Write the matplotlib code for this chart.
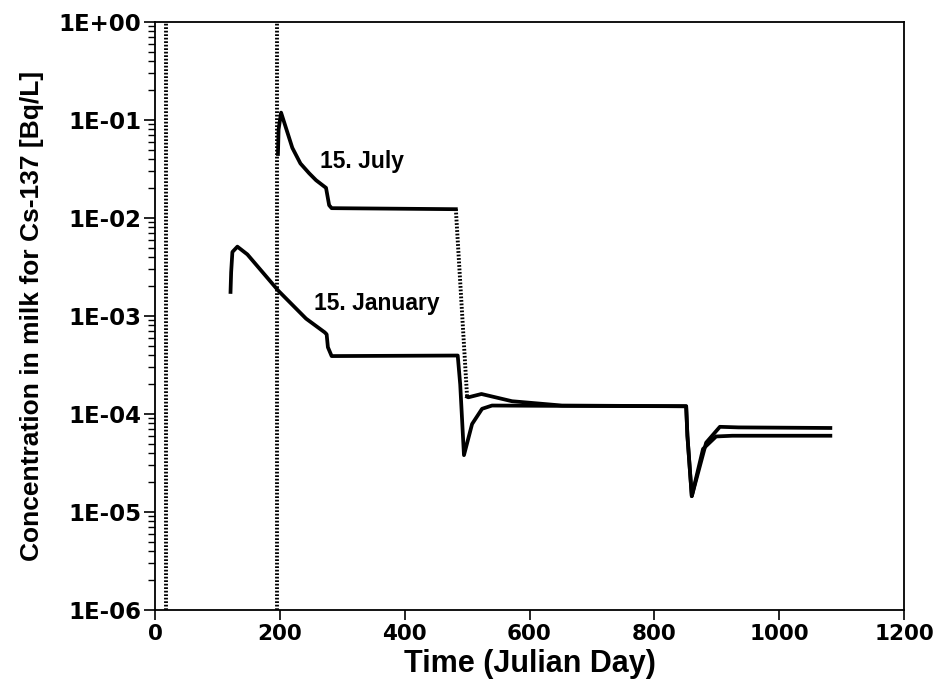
import matplotlib

matplotlib.use("Agg")
import matplotlib.pyplot as plt
from matplotlib.ticker import FixedLocator, LogLocator, NullFormatter

plt.rcParams["font.family"] = ["Liberation Sans", "DejaVu Sans"]

# milk concentration after a release on 15 January (Bq/L)
jan_day = [121, 122, 124, 132, 148, 198, 242, 272, 275, 277, 283, 485, 489, 495,
           508, 524, 540, 650, 851, 853, 860, 878, 899, 925, 1082]
jan_conc = [1.76e-3, 2.8e-3, 4.5e-3, 5.1e-3, 4.25e-3, 1.8e-3, 9.4e-4, 6.8e-4, 6.5e-4,
            4.8e-4, 3.9e-4, 3.95e-4, 2.0e-4, 3.8e-5, 7.9e-5, 1.13e-4, 1.22e-4, 1.21e-4,
            1.2e-4, 6.0e-5, 1.45e-5, 4.4e-5, 5.9e-5, 6.0e-5, 6.0e-5]

# release on 15 July, before and after the steep fall (fall is dotted in the source)
jul_day_a = [197, 198, 202, 220, 233, 247, 258, 274, 279, 283, 482]
jul_conc_a = [0.045, 0.08, 0.119, 0.052, 0.036, 0.0286, 0.0243, 0.0203, 0.0135,
              0.0126, 0.0123]
jul_drop_day = [482, 500]
jul_drop_conc = [0.0123, 1.5e-4]
jul_day_b = [500, 502, 523, 572, 652, 851, 853, 860, 883, 905, 935, 1082]
jul_conc_b = [1.5e-4, 1.48e-4, 1.6e-4, 1.35e-4, 1.22e-4, 1.2e-4, 6.0e-5, 1.45e-5,
              5.1e-5, 7.4e-5, 7.3e-5, 7.2e-5]

# deposition dates (full-height dotted lines)
release_day = [18, 196]

y_ticks = [1e0, 1e-1, 1e-2, 1e-3, 1e-4, 1e-5, 1e-6]
y_labels = ["1E+00", "1E-01", "1E-02", "1E-03", "1E-04", "1E-05", "1E-06"]
x_ticks = [0, 200, 400, 600, 800, 1000, 1200]

DOTS = (0, (0.45, 0.45))


def main() -> None:
    fig = plt.figure(figsize=(9.33, 6.87), dpi=100)
    ax = fig.add_axes([155 / 933, 1 - 610 / 687, 749 / 933, 588 / 687])

    for d in release_day:
        ax.plot([d, d], [1e-6, 1e0], color="black", lw=2.8, ls=DOTS)

    ax.plot(jan_day, jan_conc, color="black", lw=2.7, solid_joinstyle="round")
    ax.plot(jul_day_a, jul_conc_a, color="black", lw=2.7, solid_joinstyle="round")
    ax.plot(jul_drop_day, jul_drop_conc, color="black", lw=2.8, ls=DOTS)
    ax.plot(jul_day_b, jul_conc_b, color="black", lw=2.7, solid_joinstyle="round")

    ax.set_yscale("log")
    ax.set_xlim(0, 1200)
    ax.set_ylim(1e-6, 1e0)

    ax.yaxis.set_major_locator(FixedLocator(y_ticks))
    ax.set_yticklabels(y_labels)
    ax.yaxis.set_minor_locator(LogLocator(base=10, subs=range(2, 10), numticks=20))
    ax.yaxis.set_minor_formatter(NullFormatter())
    ax.xaxis.set_major_locator(FixedLocator(x_ticks))

    ax.tick_params(axis="y", which="major", direction="out", length=8, width=1.2, pad=2)
    ax.tick_params(axis="y", which="minor", direction="out", length=5, width=1.0)
    ax.tick_params(axis="x", which="major", direction="out", length=7, width=1.2, pad=3)
    for lab in ax.get_yticklabels():
        lab.set_fontfamily("DejaVu Sans")
        lab.set_fontweight("bold")
        lab.set_fontsize(16.5)
    for lab in ax.get_xticklabels():
        lab.set_fontfamily("DejaVu Sans")
        lab.set_fontweight("bold")
        lab.set_fontsize(15.5)
    for s in ax.spines.values():
        s.set_linewidth(1.3)

    ax.text(264, 0.038, "15. July", fontsize=16.5, fontweight="bold",
            ha="left", va="center")
    ax.text(255, 1.35e-3, "15. January", fontsize=16.5, fontweight="bold",
            ha="left", va="center")

    ax.set_xlabel("Time (Julian Day)", fontsize=22, fontweight="bold", labelpad=4)
    ax.set_ylabel("Concentration in milk for Cs-137 [Bq/L]", fontsize=19,
                  fontweight="bold", labelpad=10)

    fig.savefig("out.png", dpi=100)
    plt.close(fig)


if __name__ == "__main__":
    main()
